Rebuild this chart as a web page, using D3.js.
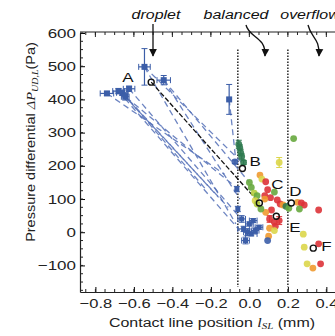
<!DOCTYPE html>
<html>
<head>
<meta charset="utf-8">
<script src="https://cdn.jsdelivr.net/npm/d3@7"></script>
<style>
  body { margin: 0; background: #fff; }
  svg { font-family: "Liberation Sans", Arial, sans-serif; }
  .sq { transform-box: fill-box; transform-origin: center; transform: scaleY(0.78); }
</style>
</head>
<body>
<svg id="chart" width="335" height="336"></svg>
<script>
// left blue start points [x, y, xerr, yerr]
const startPts = [
  [-0.74, 418, 0.035, 6], [-0.68, 425, 0.03, 8], [-0.66, 420, 0.03, 8],
  [-0.645, 408, 0.02, 10], [-0.625, 432, 0.03, 8], [-0.545, 498, 0.03, 55],
  [-0.445, 458, 0.035, 14], [-0.105, 400, 0.0, 45]
]
// dashed links [x1, y1, x2, y2]
const links = [
  [-0.74, 418, -0.13, 175], [-0.68, 425, -0.09, 145], [-0.66, 420, -0.16, 105],
  [-0.645, 408, -0.11, 75], [-0.625, 432, -0.06, 52], [-0.545, 498, -0.03, 205],
  [-0.445, 458, 0.0, 150], [-0.445, 458, -0.05, 100], [-0.105, 400, -0.07, 215],
  [-0.545, 498, -0.07, 25], [-0.66, 420, -0.22, 125], [-0.68, 425, -0.05, 5]
]
// colored points [x, y, colour key, yerr]
const pts = [
  [-0.055, 265, 'dg', 12], [-0.05, 255, 'dg', 8], [-0.045, 240, 'dg', 10], [-0.04, 228, 'dg', 8],
  [-0.03, 210, 'dg', 6], [-0.075, 212, 'b', 5], [0.23, 282, 'g', 0], [0.155, 210, 'y', 15],
  [0.0, 150, 'g', 0], [0.01, 135, 'g', 0], [0.025, 118, 'yg', 0], [0.04, 110, 'g', 0],
  [0.055, 172, 'o', 0], [0.065, 160, 'y', 0], [0.085, 152, 'r', 0], [0.095, 128, 'r', 0],
  [0.08, 110, 'r', 0], [0.11, 104, 'r', 0], [0.13, 121, 'g', 0], [0.08, 100, 'o', 0],
  [0.03, 95, 'y', 0], [0.145, 97, 'r', 0], [0.16, 85, 'r', 0], [0.175, 82, 'o', 0],
  [0.19, 78, 'dg', 0], [0.205, 72, 'g', 0], [0.115, 67, 'r', 0], [0.085, 60, 'o', 0],
  [0.25, 90, 'o', 0], [0.27, 88, 'r', 0], [0.285, 82, 'r', 0], [0.26, 70, 'g', 0],
  [0.36, 67, 'r', 0], [0.105, 40, 'r', 10], [0.13, 30, 'r', 0], [0.155, 35, 'r', 12],
  [0.135, 18, 'r', 0], [0.105, 12, 'o', 0], [0.1, -12, 'o', 0], [0.13, 5, 'y', 0],
  [0.095, -25, 'b', 0], [0.28, -6, 'y', 0], [0.285, -45, 'y', 0], [0.36, -35, 'r', 0],
  [0.3, -95, 'y', 0], [0.33, -108, 'o', 0], [0.37, -95, 'r', 0], [0.04, 85, 'yg', 0],
  [0.06, 70, 'g', 0]
]
// blue cluster near zero [x, y, xerr, yerr]
const bluePts = [
  [-0.065, 130, 0, 8], [-0.06, 70, 0, 8], [-0.04, 40, 0.02, 10], [-0.03, 10, 0.03, 8],
  [-0.01, 0, 0.02, 10], [0.01, -5, 0.03, 6], [0.03, 5, 0.02, 8], [0.05, 15, 0.02, 6],
  [-0.02, -25, 0.02, 10], [0.0, 25, 0.02, 6], [0.02, 35, 0.02, 6]
]
const marked = [
  ['A', -0.51, 452], ['B', -0.036, 192], ['C', 0.052, 88],
  ['D', 0.218, 88], ['E', 0.14, 48], ['F', 0.332, -48]
]
const xTicks = [-0.8, -0.6, -0.4, -0.2, 0.0, 0.2, 0.4]
const yTicks = [-100, 0, 100, 200, 300, 400, 500, 600]
const regimes = ['droplet', 'balanced', 'overflow']
const dividers = [-0.06, 0.2]

const colors = { b: '#3c5ea8', dg: '#2f7a50', g: '#67a83e', yg: '#b5cc3e', y: '#dcd64a', o: '#f09a30', r: '#dd3339' }

const svg = d3.select('#chart')
const x = d3.scaleLinear().domain([-0.88, 0.5]).range([80, 345.6])
const y = d3.scaleLinear().domain([-180, 600]).range([292, 33])

// top frame line
svg.append('line').attr('x1', 80).attr('x2', 335).attr('y1', 32).attr('y2', 32).attr('stroke', '#222').attr('stroke-width', 1.2)

const xMinor = d3.range(-0.85, 0.5, 0.05)
const yMinor = d3.range(-175, 601, 25)

const xAxis = svg.append('g').attr('transform', 'translate(0,292)')
  .call(d3.axisBottom(x).tickValues(xTicks).tickFormat(d3.format('.1f')).tickSizeInner(-5).tickSizeOuter(0).tickPadding(6))
xAxis.selectAll('text').attr('font-size', 16.5).attr('fill', '#222').classed('sq', true)
xAxis.select('.domain').attr('stroke', '#222').attr('stroke-width', 1.2)
xAxis.selectAll('.minor').data(xMinor).enter().append('line')
  .attr('x1', d => x(d)).attr('x2', d => x(d)).attr('y1', 0).attr('y2', -3).attr('stroke', '#222')
const xTop = svg.append('g').attr('transform', 'translate(0,32)')
xTop.selectAll('line').data(xMinor.concat(xTicks)).enter().append('line')
  .attr('x1', d => x(d)).attr('x2', d => x(d)).attr('y1', 0).attr('y2', (d, i) => i < xMinor.length ? 3 : 5).attr('stroke', '#222')

const yAxis = svg.append('g').attr('transform', 'translate(80,0)')
  .call(d3.axisLeft(y).tickValues(yTicks).tickSizeInner(-5).tickSizeOuter(0).tickPadding(4))
yAxis.selectAll('text').attr('font-size', 17).attr('fill', '#222').classed('sq', true)
yAxis.select('.domain').attr('stroke', '#222').attr('stroke-width', 1.2)
yAxis.selectAll('.minor').data(yMinor).enter().append('line')
  .attr('x1', 0).attr('x2', 3).attr('y1', d => y(d)).attr('y2', d => y(d)).attr('stroke', '#222')

// axis titles
const xt = svg.append('text').attr('x', 212).attr('y', 328).attr('text-anchor', 'middle').attr('font-size', 16).attr('fill', '#222').classed('sq', true)
xt.append('tspan').text('Contact line position ')
xt.append('tspan').attr('font-family', 'Liberation Serif').attr('font-style', 'italic').text('l')
xt.append('tspan').attr('font-family', 'Liberation Serif').attr('font-style', 'italic').attr('font-size', 11).attr('dy', 3).text('SL')
xt.append('tspan').attr('dy', -3).text(' (mm)')

const yt = svg.append('text').attr('transform', 'translate(35,142) rotate(-90) scale(1,0.85)').attr('text-anchor', 'middle').attr('font-size', 14.5).attr('fill', '#222')
yt.append('tspan').text('Pressure differential ')
yt.append('tspan').attr('font-family', 'Liberation Serif').attr('font-style', 'italic').text('ΔP')
yt.append('tspan').attr('font-family', 'Liberation Serif').attr('font-style', 'italic').attr('font-size', 10).attr('dy', 3).text('UD,L')
yt.append('tspan').attr('dy', -3).text('(Pa)')

// regime dividers
svg.selectAll('.div').data(dividers).enter().append('line')
  .attr('x1', d => x(d)).attr('x2', d => x(d)).attr('y1', y(550)).attr('y2', y(-165))
  .attr('stroke', '#333').attr('stroke-width', 1.6).attr('stroke-dasharray', '1.5,1.5')

// regime labels and arrows
svg.append('defs').append('marker').attr('id', 'ah').attr('viewBox', '0 0 10 10').attr('refX', 9).attr('refY', 5)
  .attr('markerWidth', 6).attr('markerHeight', 7).attr('orient', 'auto')
  .append('path').attr('d', 'M0,0 L10,5 L0,10 Z').attr('fill', '#111')
svg.selectAll('.reg').data(regimes).enter().append('text')
  .attr('x', (d, i) => [156, 236, 310][i]).attr('y', 20).attr('text-anchor', 'middle')
  .attr('font-size', 16).attr('font-style', 'italic').attr('fill', '#111').classed('sq', true).text(d => d)
const arrows = ['M153,24 L153,56', 'M246,25 C249,38 266,36 265,56', 'M308,25 C311,38 320,38 319,56']
svg.selectAll('.arr').data(arrows).enter().append('path').attr('d', d => d)
  .attr('fill', 'none').attr('stroke', '#111').attr('stroke-width', 1.3).attr('marker-end', 'url(#ah)')

// dashed links
svg.selectAll('.link').data(links).enter().append('line')
  .attr('x1', d => x(d[0])).attr('y1', d => y(d[1])).attr('x2', d => x(d[2])).attr('y2', d => y(d[3]))
  .attr('stroke', '#5470b8').attr('stroke-width', 1.3).attr('stroke-dasharray', '6,4').attr('opacity', 0.85)

// black dashed trajectory A -> C
svg.append('line').attr('x1', x(marked[0][1])).attr('y1', y(marked[0][2]))
  .attr('x2', x(marked[2][1])).attr('y2', y(marked[2][2]))
  .attr('stroke', '#111').attr('stroke-width', 1.3).attr('stroke-dasharray', '5,2')

function errPoint(g, d, col, size) {
  const cx = x(d[0]), cy = y(d[1])
  if (d[2] > 0) {
    g.append('line').attr('x1', x(d[0] - d[2])).attr('x2', x(d[0] + d[2])).attr('y1', cy).attr('y2', cy).attr('stroke', col).attr('stroke-width', 1.2)
    g.append('line').attr('x1', x(d[0] - d[2])).attr('x2', x(d[0] - d[2])).attr('y1', cy - 3).attr('y2', cy + 3).attr('stroke', col)
    g.append('line').attr('x1', x(d[0] + d[2])).attr('x2', x(d[0] + d[2])).attr('y1', cy - 3).attr('y2', cy + 3).attr('stroke', col)
  }
  if (d[3] > 0) {
    g.append('line').attr('x1', cx).attr('x2', cx).attr('y1', y(d[1] - d[3])).attr('y2', y(d[1] + d[3])).attr('stroke', col).attr('stroke-width', 1.2)
    g.append('line').attr('x1', cx - 3).attr('x2', cx + 3).attr('y1', y(d[1] - d[3])).attr('y2', y(d[1] - d[3])).attr('stroke', col)
    g.append('line').attr('x1', cx - 3).attr('x2', cx + 3).attr('y1', y(d[1] + d[3])).attr('y2', y(d[1] + d[3])).attr('stroke', col)
  }
  g.append('rect').attr('x', cx - size / 2).attr('y', cy - size / 2).attr('width', size).attr('height', size).attr('fill', col)
}

const gStart = svg.append('g')
startPts.forEach(d => errPoint(gStart, d, colors.b, 6))
const gBlue = svg.append('g')
bluePts.forEach(d => errPoint(gBlue, d, colors.b, 5))

const gPts = svg.append('g')
pts.forEach(d => {
  if (d[3] > 0) errPoint(gPts, [d[0], d[1], 0, d[3]], colors[d[2]], 0)
})
gPts.selectAll('circle').data(pts).enter().append('circle')
  .attr('cx', d => x(d[0])).attr('cy', d => y(d[1])).attr('r', 3.4)
  .attr('fill', d => colors[d[2]]).attr('opacity', 0.9)

// marked states
svg.selectAll('.mk').data(marked).enter().append('circle')
  .attr('cx', d => x(d[1])).attr('cy', d => y(d[2])).attr('r', 3)
  .attr('fill', 'none').attr('stroke', '#111').attr('stroke-width', 1.4)
const lblOff = { A: [-29, 1], B: [7, -1], C: [12, -13], D: [-2, -6], E: [13, 17], F: [8, 4] }
svg.selectAll('.ml').data(marked).enter().append('text')
  .attr('x', d => x(d[1]) + lblOff[d[0]][0]).attr('y', d => y(d[2]) + lblOff[d[0]][1])
  .attr('font-size', 17).attr('fill', '#111').classed('sq', true).text(d => d[0])
</script>
</body>
</html>
